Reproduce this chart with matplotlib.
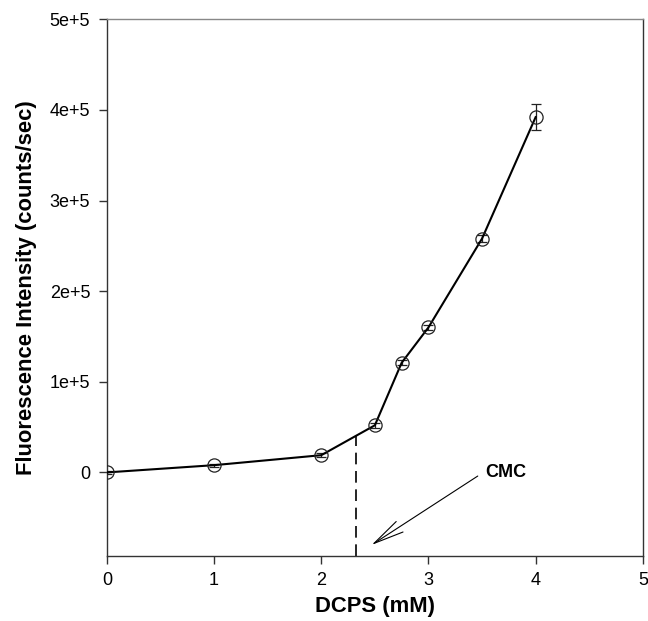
import matplotlib.pyplot as plt
import numpy as np

plt.rcParams['font.family'] = ['Liberation Sans', 'DejaVu Sans']

# DCPS concentration (mM) vs fluorescence intensity
conc = [0, 1, 2, 2.5, 2.75, 3.0, 3.5, 4.0]
intensity = [0, 8000, 19000, 52000, 121000, 160000, 258000, 392000]
err = [1500, 1500, 2000, 2500, 3000, 3000, 4000, 14500]

cmc = 2.32
x_ticks = [0, 1, 2, 3, 4, 5]
y_ticks = [0, 1e5, 2e5, 3e5, 4e5, 5e5]
y_labels = ['0', '1e+5', '2e+5', '3e+5', '4e+5', '5e+5']

fig = plt.figure(figsize=(6.48, 6.21), dpi=100)
ax = fig.add_axes([0.165, 0.105, 0.827, 0.864])

ax.errorbar(conc, intensity, yerr=err, color='black', lw=1.5,
            marker='o', ms=9.5, mfc='none', mec='#222222', mew=0.9,
            ecolor='#222222', elinewidth=0.9, capsize=3.6, capthick=0.9,
            zorder=3)

ymin = -0.92e5
# value of the curve at the CMC
y_cmc = np.interp(cmc, conc, intensity)
ax.plot([cmc, cmc], [ymin, y_cmc], color='black', lw=1.2,
        dashes=(7, 4))

ax.annotate('', xy=(2.47, -0.80e5), xytext=(3.46, -0.04e5),
            arrowprops=dict(arrowstyle='->,head_length=2.2,head_width=0.45',
                            color='black', lw=0.8, shrinkA=0, shrinkB=0))
ax.text(3.53, 0.0, 'CMC', fontsize=13, fontweight='bold',
        ha='left', va='center')

ax.set_xlim(0, 5)
ax.set_ylim(ymin, 5e5)
ax.set_xticks(x_ticks)
ax.set_yticks(y_ticks)
ax.set_yticklabels(y_labels)
ax.tick_params(direction='out', length=6, width=1, labelsize=13,
               color='#333333', pad=6)
ax.xaxis.set_ticks_position('bottom')
ax.yaxis.set_ticks_position('left')
for s in ax.spines.values():
    s.set_color('#333333')
    s.set_linewidth(1)
ax.spines['top'].set_color('#888888')

ax.set_xlabel('DCPS (mM)', fontsize=15.8, fontweight='bold', labelpad=5)
ax.set_ylabel('Fluorescence Intensity (counts/sec)', fontsize=15.8,
              fontweight='bold', labelpad=9)

fig.savefig('out.png', dpi=100)
